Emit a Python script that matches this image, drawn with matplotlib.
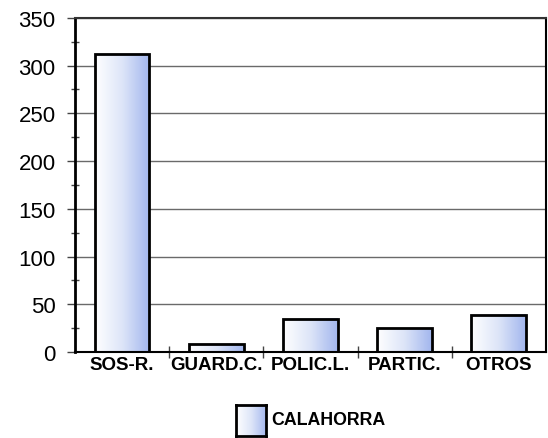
import numpy as np
import matplotlib
matplotlib.use("Agg")
from matplotlib import pyplot as plt
from matplotlib.colors import LinearSegmentedColormap
from matplotlib.ticker import MultipleLocator

plt.rcParams["font.family"] = ["Liberation Sans", "DejaVu Sans"]

# Data
categories = ["SOS-R.", "GUARD.C.", "POLIC.L.", "PARTIC.", "OTROS"]
values = [312, 8, 35, 25, 39]
series_name = "CALAHORRA"

# Style
grad = LinearSegmentedColormap.from_list("grad", ["#ffffff", "#dde5f8", "#a2b6ee"])
gradient = np.linspace(0, 1, 256).reshape(1, -1)

fig = plt.figure(figsize=(5.48, 4.39), dpi=100)
ax = fig.add_axes([0.137, 0.196, 0.859, 0.761])

x = np.arange(len(categories))
width = 0.58
bars = ax.bar(x, values, width=width, facecolor="none", edgecolor="black", linewidth=2, zorder=3)

# gradient fill inside each bar
for bar in bars:
    bx, by = bar.get_x(), bar.get_y()
    ax.imshow(gradient, cmap=grad, aspect="auto", zorder=2,
              extent=[bx, bx + bar.get_width(), by, by + bar.get_height()])

ax.set_xlim(-0.5, len(categories) - 0.5)
ax.set_ylim(0, 350)

# Axes and grid
ax.yaxis.set_major_locator(MultipleLocator(50))
ax.yaxis.set_minor_locator(MultipleLocator(25))
ax.grid(axis="y", color="#6a6a6a", linewidth=1, zorder=1)
ax.tick_params(axis="y", which="major", labelsize=16, length=6, width=1, pad=8,
               direction="out", color="#444444")
ax.tick_params(axis="y", which="minor", length=6, width=1, direction="inout", color="#444444")

ax.set_xticks(x)
ax.set_xticklabels(categories, fontsize=13.5, fontweight="bold")
ax.tick_params(axis="x", which="major", length=0, pad=3)
ax.set_xticks(x[:-1] + 0.5, minor=True)
ax.tick_params(axis="x", which="minor", length=8, width=1, direction="inout", color="#444444")

ax.spines["left"].set_linewidth(2)
ax.spines["bottom"].set_linewidth(1.5)
ax.spines["right"].set_linewidth(1.5)
ax.spines["top"].set_linewidth(1.5)
ax.spines["top"].set_color("#333333")

# Legend drawn by hand
lax = fig.add_axes([0.43, 0.005, 0.055, 0.07])
lax.imshow(gradient, cmap=grad, aspect="auto", extent=[0, 1, 0, 1])
for s in lax.spines.values():
    s.set_linewidth(2)
lax.set_xticks([])
lax.set_yticks([])
fig.text(0.495, 0.043, series_name, fontsize=12.8, fontweight="bold", va="center", ha="left")

plt.savefig("out.png", dpi=100)
